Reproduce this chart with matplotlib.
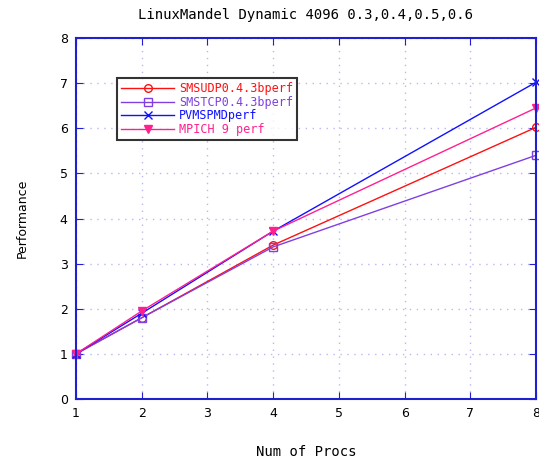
import matplotlib
matplotlib.use("Agg")
import matplotlib.pyplot as plt

procs = [1, 2, 4, 8]
smsudp = [1.0, 1.8, 3.41, 6.02]
smstcp = [1.0, 1.8, 3.37, 5.40]
pvm = [1.0, 1.9, 3.72, 7.02]
mpich = [1.0, 1.95, 3.72, 6.45]
labels = ["SMSUDP0.4.3bperf", "SMSTCP0.4.3bperf", "PVMSPMDperf", "MPICH 9 perf"]
colors = ["#ff1010", "#8040e0", "#1010ff", "#ff2090"]
markers = ["o", "s", "x", "v"]

fig = plt.figure(figsize=(5.39, 4.62), dpi=100)
ax = fig.add_axes([76/539, 1-399/462, 460/539, 361/462])

series = [smsudp, smstcp, pvm, mpich]
for ys, lab, c, m in zip(series, labels, colors, markers):
    kw = dict(markersize=5.5)
    if m in ("o", "s"):
        kw.update(markerfacecolor="none", markeredgecolor=c)
    elif m == "v":
        kw.update(markerfacecolor=c, markeredgecolor=c)
    ax.plot(procs, ys, color=c, marker=m, linewidth=1.0, label=lab,
            clip_on=False, **kw)

ax.set_xlim(1, 8)
ax.set_ylim(0, 8)
ax.set_xticks(range(1, 9))
ax.set_yticks(range(0, 9))
ax.grid(True, color="#b8b8f0", linestyle=(0, (1, 4)), linewidth=1.0)
for s in ax.spines.values():
    s.set_color("#2020d0")
    s.set_linewidth(1.5)
ax.tick_params(direction="in", top=True, right=True, color="#2020d0",
               length=5, labelsize=9, pad=6)

ax.set_title("LinuxMandel Dynamic 4096 0.3,0.4,0.5,0.6",
             family="DejaVu Sans Mono", fontsize=10, pad=14)
ax.set_xlabel("Num of Procs", family="DejaVu Sans Mono", fontsize=10, labelpad=18)
ax.set_ylabel("Performance", family="DejaVu Sans", fontsize=9, labelpad=22)

leg = ax.legend(loc="upper left", bbox_to_anchor=(0.089, 0.889),
                prop={"family": "DejaVu Sans Mono", "size": 8.5},
                frameon=True, fancybox=False, handlelength=4.5,
                borderaxespad=0, labelspacing=0.05, handletextpad=0.4,
                borderpad=0.35)
leg.get_frame().set_edgecolor("black")
leg.get_frame().set_linewidth(1.5)
for t, c in zip(leg.get_texts(), colors):
    t.set_color(c)

fig.savefig("out.png", dpi=100)
